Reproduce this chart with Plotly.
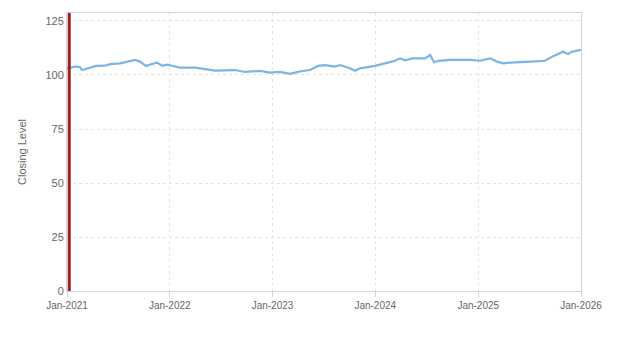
import plotly.graph_objects as go

dates = ["2021-01-01","2021-02-02","2021-02-16","2021-02-23","2021-03-17","2021-04-14","2021-05-16",
         "2021-06-03","2021-07-08","2021-08-02","2021-08-31","2021-09-17","2021-10-09","2021-10-30",
         "2021-11-17","2021-12-05","2021-12-22","2022-01-09","2022-02-06","2022-04-01","2022-05-06",
         "2022-06-11","2022-08-21","2022-09-25","2022-11-18","2022-12-23","2023-01-28","2023-03-04",
         "2023-04-09","2023-05-14","2023-06-12","2023-07-07","2023-08-11","2023-08-29","2023-10-03",
         "2023-10-21","2023-11-08","2023-12-14","2023-12-31","2024-02-05","2024-03-11","2024-03-29",
         "2024-04-16","2024-05-11","2024-06-26","2024-07-14","2024-07-28","2024-08-11","2024-09-23",
         "2024-12-03","2025-01-07","2025-02-12","2025-03-09","2025-03-30","2025-04-24","2025-07-04",
         "2025-08-26","2025-09-20","2025-10-12","2025-10-29","2025-11-16","2025-11-30","2026-01-01"]
closing = [103.1,104.0,103.6,102.3,103.1,104.2,104.3,
           105.0,105.4,106.2,107.0,106.2,104.2,105.1,
           105.7,104.3,104.8,104.3,103.4,103.4,102.6,
           102.0,102.3,101.4,101.9,101.1,101.4,100.5,
           101.7,102.3,104.2,104.6,103.9,104.6,103.1,
           102.0,103.1,103.9,104.2,105.4,106.6,107.7,
           106.8,107.7,107.7,109.3,105.9,106.5,107.0,
           107.0,106.6,107.7,106.2,105.4,105.7,106.2,
           106.6,108.5,109.7,110.8,109.7,110.8,111.6]

marker_date = "2021-01-09"
x_ticks = ["2021-01-01","2022-01-01","2023-01-01","2024-01-01","2025-01-01","2026-01-01"]
x_tick_labels = ["Jan-2021","Jan-2022","Jan-2023","Jan-2024","Jan-2025","Jan-2026"]
y_ticks = [0, 25, 50, 75, 100, 125]

fig = go.Figure()
fig.add_trace(go.Scatter(x=dates, y=closing, mode="lines",
                         line=dict(color="#7cb5e4", width=2.2), showlegend=False))
fig.add_shape(type="line", xref="x", yref="paper", x0=marker_date, x1=marker_date, y0=0, y1=1,
              line=dict(color="#a31f1f", width=3))

fig.update_layout(
    width=623, height=350,
    margin=dict(l=67, r=42, t=13, b=59),
    paper_bgcolor="white", plot_bgcolor="white",
    font=dict(family="Liberation Sans, Arial, sans-serif", color="#666666", size=11),
)
fig.update_xaxes(type="date", range=["2021-01-01", "2026-01-01"],
                 tickvals=x_ticks, ticktext=x_tick_labels, tickfont=dict(size=10),
                 showgrid=True, gridcolor="#e3e3e3", griddash="3px,3px", gridwidth=1,
                 showline=True, linecolor="#ccd6e0", linewidth=1, mirror=True,
                 ticks="outside", ticklen=5, tickcolor="#ccd6e0", zeroline=False)
fig.update_yaxes(range=[0, 128.7], tickvals=y_ticks, tickfont=dict(size=11),
                 title=dict(text="Closing Level", font=dict(size=11), standoff=16),
                 showgrid=True, gridcolor="#e3e3e3", griddash="3px,3px", gridwidth=1,
                 showline=True, linecolor="#d6d6d6", linewidth=1, mirror=True,
                 ticks="", zeroline=False)

fig.write_html("out.html")
